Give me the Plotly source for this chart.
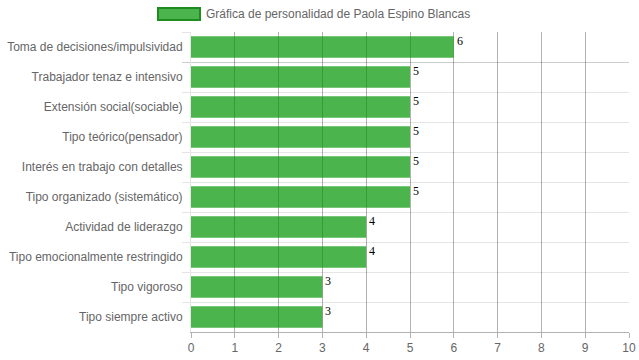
import plotly.graph_objects as go

categories = [
    "Toma de decisiones/impulsividad",
    "Trabajador tenaz e intensivo",
    "Extensión social(sociable)",
    "Tipo teórico(pensador)",
    "Interés en trabajo con detalles",
    "Tipo organizado (sistemático)",
    "Actividad de liderazgo",
    "Tipo emocionalmente restringido",
    "Tipo vigoroso",
    "Tipo siempre activo",
]
values = [6, 5, 5, 5, 5, 5, 4, 4, 3, 3]
series_name = "Gráfica de personalidad de Paola Espino Blancas"
x_ticks = list(range(0, 11))

BAR = "rgba(0,148,0,0.7)"
BORDER = "#1f8c1f"

fig = go.Figure()
fig.add_trace(go.Bar(
    x=values, y=categories, orientation="h",
    marker=dict(color=BAR, line=dict(width=0)),
    name=series_name, showlegend=False, hoverinfo="x+y",
))

for c, v in zip(categories, values):
    fig.add_annotation(
        x=v, y=c, text=str(v), showarrow=False,
        xanchor="left", yanchor="middle", xshift=1, yshift=6,
        font=dict(family="Liberation Serif, serif", size=12, color="#000"),
    )

# legend (Chart.js style wide box)
fig.add_shape(type="rect", xref="paper", yref="paper",
              x0=-33/438, x1=9/438, y0=1+12/300, y1=1+24/300,
              fillcolor=BAR, line=dict(color=BORDER, width=2))
fig.add_annotation(xref="paper", yref="paper", x=13/438, y=1+18/300,
                   text=series_name, showarrow=False, xanchor="left", yanchor="middle",
                   font=dict(family="Liberation Sans, Arial", size=12, color="#666"))

fig.update_layout(
    width=639, height=360,
    margin=dict(l=191, r=10, t=32, b=28, autoexpand=False),
    paper_bgcolor="white", plot_bgcolor="white",
    bargap=0.28,
    font=dict(family="Liberation Sans, Arial", size=12, color="#666"),
    xaxis=dict(range=[0, 10], tickvals=x_ticks, showgrid=True,
               gridcolor="rgba(0,0,0,0.3)", gridwidth=1,
               showline=True, linecolor="rgba(0,0,0,0.3)",
               ticks="outside", ticklen=5, tickcolor="rgba(0,0,0,0.3)",
               zeroline=False, automargin=False,
               tickfont=dict(size=12, color="#666")),
    yaxis=dict(autorange="reversed", tickson="boundaries", showgrid=True,
               gridcolor="rgba(0,0,0,0.1)", ticks="outside", ticklen=8,
               tickcolor="rgba(0,0,0,0.1)", showline=True,
               linecolor="rgba(0,0,0,0.1)", zeroline=False, automargin=False,
               ticklabelstandoff=5,
               tickfont=dict(size=12, color="#666")),
)

fig.write_html("out.html", config={"displayModeBar": False},
               post_script="document.body.style.margin='0';document.body.style.overflow='hidden';")
